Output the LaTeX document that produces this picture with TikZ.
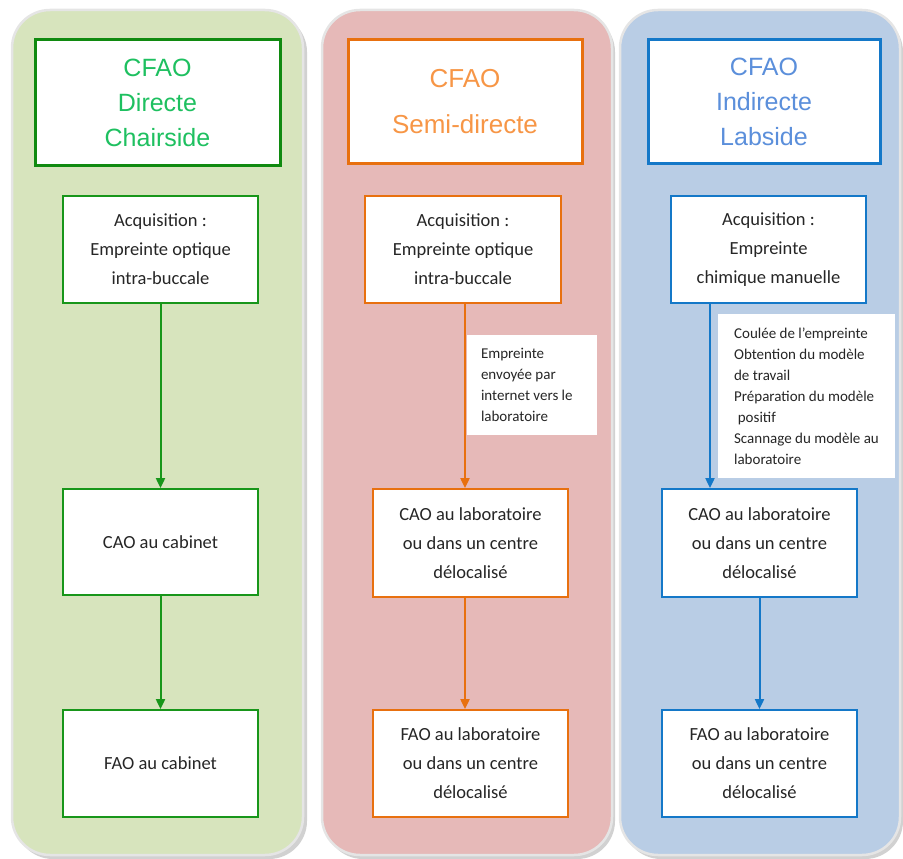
\documentclass[tikz,border=0pt]{standalone}
\usepackage{fontspec}
\setmainfont{Carlito}
\newfontfamily\arialf{Liberation Sans}
\usetikzlibrary{arrows.meta}
\definecolor{pgreen}{HTML}{D7E4BD}
\definecolor{ppink}{HTML}{E6B9B8}
\definecolor{pblue}{HTML}{B9CDE5}
\definecolor{dgreen}{HTML}{108A10}
\definecolor{bgreen}{HTML}{18961A}
\definecolor{tgreen}{HTML}{1EC060}
\definecolor{dorange}{HTML}{E8700F}
\definecolor{torange}{HTML}{F79646}
\definecolor{dblue}{HTML}{1478C8}
\definecolor{tblue}{HTML}{5B8FDB}
\begin{document}
\begin{tikzpicture}[x=1pt,y=-1pt,
  panel/.style={rounded corners=38pt, draw=white!90!black, line width=2.5pt},
  pshadow/.style={rounded corners=38pt, fill=black!18},
  titlebox/.style={draw, line width=3pt, fill=white, align=center, inner sep=0pt,
    font=\arialf\fontsize{25}{35}\selectfont},
  stepbox/.style={draw, line width=1.8pt, fill=white, align=center, inner sep=0pt,
    minimum width=195pt, text=black!85, font=\fontsize{18.5}{29}\selectfont},
  notebox/.style={fill=white, align=flush left, inner sep=0pt, text=black!85,
    font=\fontsize{15}{21}\selectfont},
  arr/.style={line width=2pt, -{Triangle[length=10pt,width=9pt]}}
]
\useasboundingbox (0,0) rectangle (903,859);
% panels
\fill[pshadow] (15,14) rectangle (307,859);
\fill[pshadow] (325,14) rectangle (615,859);
\fill[pshadow] (623,14) rectangle (903,859);
\filldraw[panel, fill=pgreen] (12,10) rectangle (303,855);
\filldraw[panel, fill=ppink] (322,10) rectangle (612,855);
\filldraw[panel, fill=pblue] (620,10) rectangle (900,855);
% titles
\node[titlebox, draw=dgreen, text=tgreen, minimum width=245pt, minimum height=125pt] (t1) at (157.5,102.5) {CFAO\\Directe\\Chairside};
\node[titlebox, draw=dorange, text=torange, minimum width=234pt, minimum height=123pt, font=\arialf\fontsize{26}{46}\selectfont] (t2) at (465,101.5) {CFAO\\Semi-directe};
\node[titlebox, draw=dblue, text=tblue, minimum width=232pt, minimum height=123pt] (t3) at (764,101.5) {CFAO\\Indirecte\\Labside};
% column 1
\node[stepbox, draw=bgreen, minimum height=107pt] (a1) at (160.5,249.5) {Acquisition :\\Empreinte optique\\intra-buccale};
\node[stepbox, draw=bgreen, minimum height=106pt] (c1) at (160.5,542) {CAO au cabinet};
\node[stepbox, draw=bgreen, minimum height=107pt] (f1) at (160.5,763.5) {FAO au cabinet};
\draw[arr, bgreen] (a1) -- (c1);
\draw[arr, bgreen] (c1) -- (f1);
% column 2
\node[stepbox, draw=dorange, minimum width=196pt, minimum height=107pt] (a2) at (463,249.5) {Acquisition :\\Empreinte optique\\intra-buccale};
\node[stepbox, draw=dorange, minimum height=108pt] (c2) at (470.5,543) {CAO au laboratoire\\ou dans un centre\\délocalisé};
\node[stepbox, draw=dorange, minimum height=107pt] (f2) at (470.5,763.5) {FAO au laboratoire\\ou dans un centre\\délocalisé};
\node[notebox, inner xsep=14pt, text width=102pt, minimum height=100pt] (n2) at (532,385) {Empreinte\\envoyée par\\internet vers le\\laboratoire};
\coordinate (x2) at (465,0);
\draw[arr, dorange] (a2.south -| x2) -- (c2.north -| x2);
\draw[arr, dorange] (c2.south -| x2) -- (f2.north -| x2);
% column 3
\node[stepbox, draw=dblue, minimum height=107pt] (a3) at (768.5,249.5) {Acquisition :\\Empreinte\\chimique manuelle};
\node[stepbox, draw=dblue, minimum height=108pt] (c3) at (759.5,543) {CAO au laboratoire\\ou dans un centre\\délocalisé};
\node[stepbox, draw=dblue, minimum height=107pt] (f3) at (759.5,763.5) {FAO au laboratoire\\ou dans un centre\\délocalisé};
\node[notebox, minimum width=177pt, minimum height=164pt] (n3) at (806.5,396) {Coulée de l’empreinte\\Obtention du modèle\\de travail\\Préparation du modèle\\\hspace*{0.25em}positif\\Scannage du modèle au\\laboratoire};
\coordinate (x3) at (710,0);
\draw[arr, dblue] (a3.south -| x3) -- (c3.north -| x3);
\draw[arr, dblue] (c3.south -| f3.north) -- (f3.north);
\end{tikzpicture}
\end{document}
